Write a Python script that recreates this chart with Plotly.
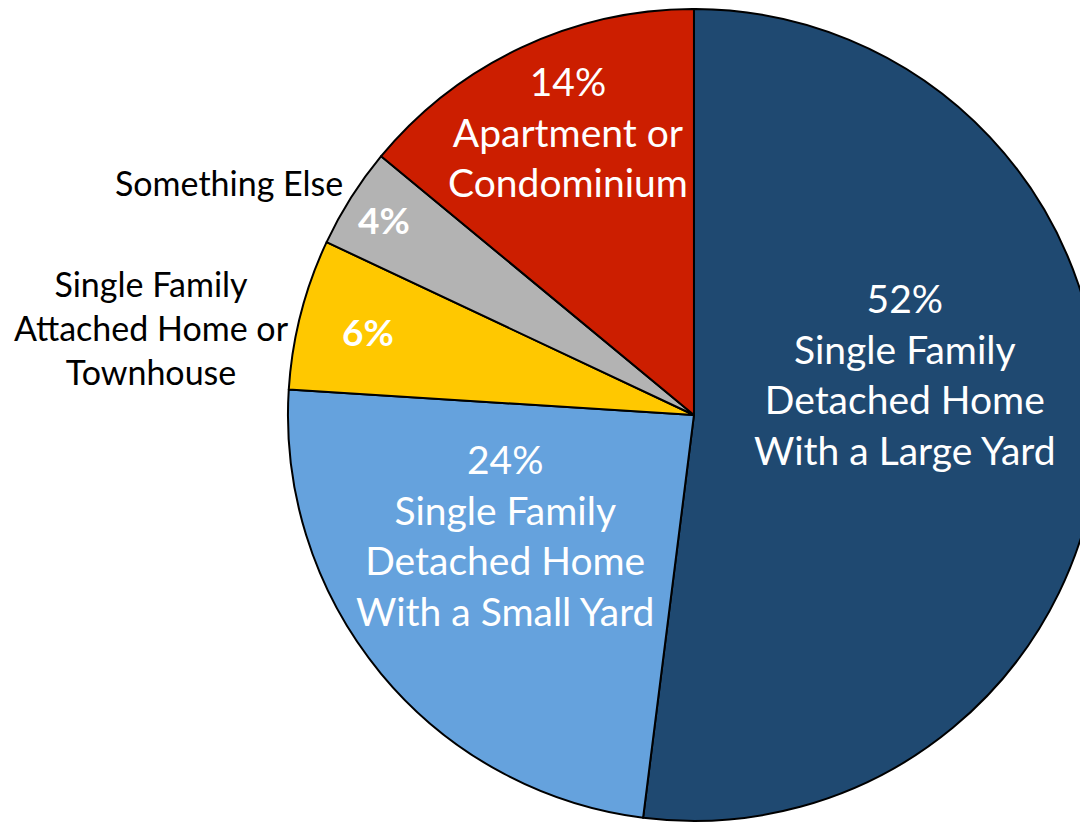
import plotly.graph_objects as go

categories = [
    "Single Family<br>Detached Home<br>With a Large Yard",
    "Single Family<br>Detached Home<br>With a Small Yard",
    "Single Family<br>Attached Home or<br>Townhouse",
    "Something Else",
    "Apartment or<br>Condominium",
]
values = [52, 24, 6, 4, 14]
colors = ["#1F4971", "#65A2DD", "#FFC800", "#B3B3B3", "#CC1E00"]
inside_label = [True, True, False, False, True]

fig = go.Figure(go.Pie(
    labels=categories,
    values=values,
    textinfo="none",
    sort=False,
    direction="clockwise",
    rotation=0,
    marker=dict(colors=colors, line=dict(color="black", width=2)),
    domain=dict(x=[0.2545, 0.9927], y=[0.0205, 0.9988]),
    showlegend=False,
    hoverinfo="label+percent",
))

# label placement (paper coords): inside-label centre, or outside-label right edge
pct_pos = [(0.8155, 0.559), (0.4518, 0.365), (0.3273, 0.6108), (0.3418, 0.7446), (0.5091, 0.8518)]
out_pos = {2: (0.2573, 0.6145), 3: (0.3064, 0.7892)}

for i, (c, v, ins) in enumerate(zip(categories, values, inside_label)):
    px, py = pct_pos[i]
    if ins:
        fig.add_annotation(x=px, y=py, xref="paper", yref="paper",
                           text=f"{v}%<br>{c}", showarrow=False,
                           xanchor="center", yanchor="middle", align="center",
                           font=dict(family="Lato", size=39, color="white"))
    else:
        fig.add_annotation(x=px, y=py, xref="paper", yref="paper",
                           text=f"<b>{v}%</b>", showarrow=False,
                           xanchor="center", yanchor="middle",
                           font=dict(family="Lato", size=37, color="white"))
        ox, oy = out_pos[i]
        fig.add_annotation(x=ox, y=oy, xref="paper", yref="paper",
                           text=c, showarrow=False,
                           xanchor="right", yanchor="middle", align="center",
                           font=dict(family="Lato", size=34, color="black"))

fig.update_layout(
    width=1100, height=830,
    margin=dict(l=0, r=0, t=0, b=0),
    paper_bgcolor="white",
)
fig.write_html("out.html")
